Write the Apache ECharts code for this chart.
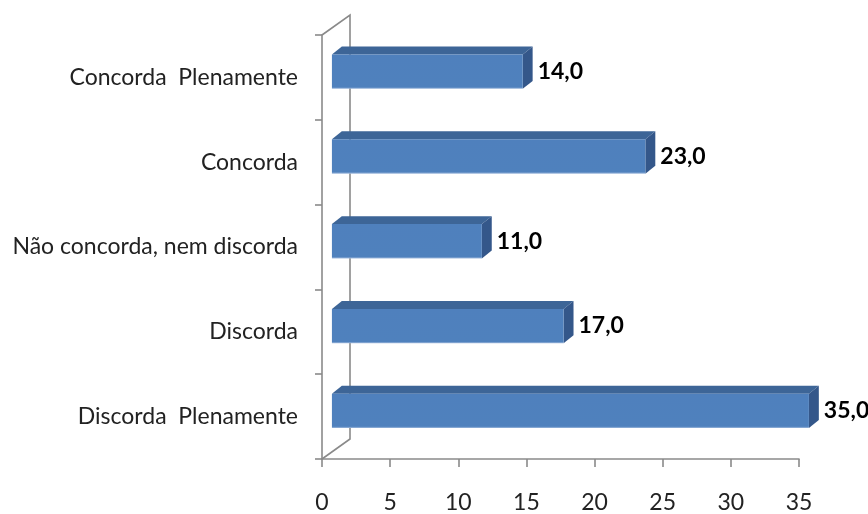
<!DOCTYPE html>
<html>
<head>
<meta charset="utf-8">
<script src="https://cdn.jsdelivr.net/npm/echarts@6/dist/echarts.min.js"></script>
<style>
  html, body { margin: 0; padding: 0; background: #ffffff; }
  #chart { width: 868px; height: 514px; }
</style>
</head>
<body>
<div id="chart"></div>
<script>
// Survey answers (top to bottom) and their counts
const categories = [
  'Concorda  Plenamente',
  'Concorda',
  'Não concorda, nem discorda',
  'Discorda',
  'Discorda  Plenamente'
];
const values = [14.0, 23.0, 11.0, 17.0, 35.0];

// Value axis range
const axisMin = 0;
const axisMax = 35;
const axisStep = 5;

const FONT = 'Lato, "Open Sans", sans-serif';
const AXIS_GRAY = '#8a8a8a';

const chart = echarts.init(document.getElementById('chart'), null, { renderer: 'canvas' });

// Side wall behind the bars (pseudo-3D frame)
function renderWall(params, api) {
  const cs = params.coordSys;
  const dX = 28, dY = -20;
  return {
    type: 'polyline',
    shape: {
      points: [
        [cs.x, cs.y],
        [cs.x + dX, cs.y + dY],
        [cs.x + dX, cs.y + cs.height + dY],
        [cs.x, cs.y + cs.height]
      ]
    },
    style: { stroke: AXIS_GRAY, lineWidth: 1.6, fill: null },
    silent: true
  };
}

// Box-shaped bar: front face, top face, right side face and value label
function renderBar(params, api) {
  const v = api.value(0);
  const cat = api.value(1);
  const start = api.coord([axisMin, cat]);
  const end = api.coord([v, cat]);
  const band = api.size([0, 1])[1];
  const offX = band * 0.117;
  const depthX = band * 0.117;
  const depthY = band * 0.094;
  const x0 = start[0] + offX;
  const x1 = end[0] + offX;
  const yTop = start[1] - band * 0.27;
  const h = band * 0.405;
  const yBot = yTop + h;

  return {
    type: 'group',
    children: [
      {
        type: 'polygon',
        shape: { points: [[x0, yTop], [x0 + depthX, yTop - depthY], [x1 + depthX, yTop - depthY], [x1, yTop]] },
        style: { fill: '#3d6597', stroke: null }
      },
      {
        type: 'polygon',
        shape: { points: [[x1, yTop], [x1 + depthX, yTop - depthY], [x1 + depthX, yBot - depthY], [x1, yBot]] },
        style: { fill: '#34578a', stroke: null }
      },
      {
        type: 'rect',
        shape: { x: x0, y: yTop, width: x1 - x0, height: h },
        style: {
          fill: new echarts.graphic.LinearGradient(0, 0, 0, 1, [
            { offset: 0, color: '#4f80bd' },
            { offset: 0.95, color: '#4f81bd' },
            { offset: 1, color: '#9fb9dc' }
          ]),
          stroke: null
        }
      },
      {
        type: 'text',
        style: {
          x: x1 + depthX + 5,
          y: yTop + h / 2,
          text: v.toFixed(1).replace('.', ','),
          fill: '#000000',
          font: 'bold 23px ' + FONT,
          align: 'left',
          verticalAlign: 'middle'
        }
      }
    ]
  };
}

chart.setOption({
  animation: false,
  backgroundColor: '#ffffff',
  grid: { left: 322, right: 69, top: 35, bottom: 53, containLabel: false },
  xAxis: {
    type: 'value',
    min: axisMin,
    max: axisMax,
    interval: axisStep,
    axisLine: { show: true, lineStyle: { color: AXIS_GRAY, width: 1.6 } },
    axisTick: { show: true, length: 8, lineStyle: { color: AXIS_GRAY, width: 1.6 } },
    splitLine: { show: false },
    axisLabel: { color: '#222222', fontFamily: FONT, fontSize: 23, margin: 32 }
  },
  yAxis: {
    type: 'category',
    data: categories,
    inverse: true,
    axisLine: { show: true, lineStyle: { color: AXIS_GRAY, width: 1.6 } },
    axisTick: { show: true, length: 7, lineStyle: { color: AXIS_GRAY, width: 1.6 } },
    axisLabel: { color: '#222222', fontFamily: FONT, fontSize: 23, margin: 24, padding: [6, 0, 0, 0] },
    splitLine: { show: false }
  },
  series: [
    {
      type: 'custom',
      name: 'wall',
      z: 1,
      renderItem: renderWall,
      data: [[0, 0]],
      encode: { x: 0, y: 1 },
      silent: true
    },
    {
      type: 'custom',
      name: 'respostas',
      z: 3,
      renderItem: renderBar,
      data: values.map((v, i) => [v, i]),
      encode: { x: 0, y: 1 }
    }
  ]
});
</script>
</body>
</html>
